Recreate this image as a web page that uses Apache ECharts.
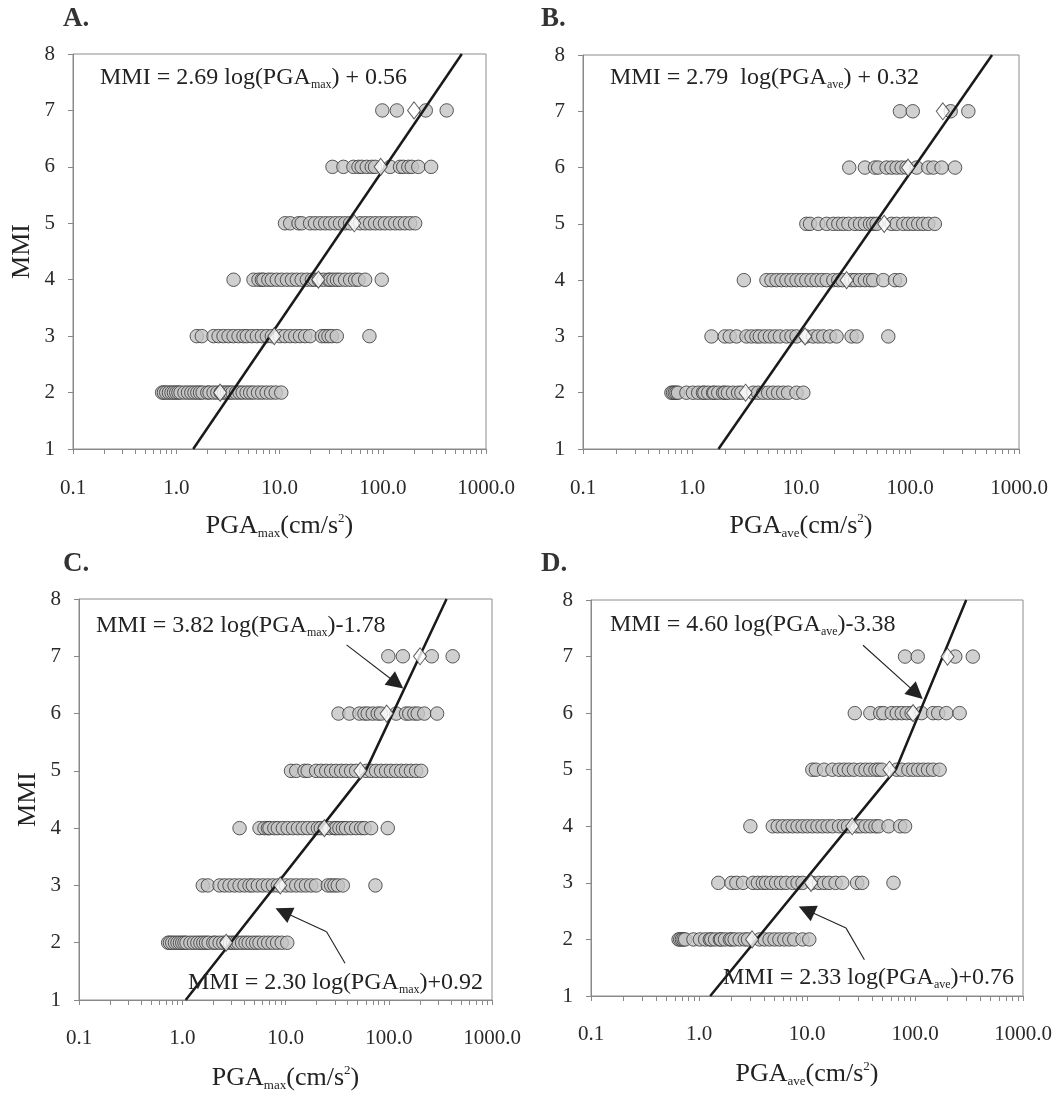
<!DOCTYPE html>
<html><head><meta charset="utf-8">
<script src="https://cdn.jsdelivr.net/npm/echarts@6/dist/echarts.min.js"></script>
<style>html,body{margin:0;padding:0;background:#fff}#c{width:1061px;height:1094px}</style>
</head><body><div id="c"></div>
<script>
// ---------- DATA ----------
const mmiLevels = [2, 3, 4, 5, 6, 7];
const xTickLabels = [0.1, 1, 10, 100, 1000];

// PGA_max (cm/s2) per MMI level
const maxMMI2 = [0.73,0.76,0.8,0.85,0.9,0.95,1.0,1.05,1.1,1.2,1.3,1.4,1.5,1.6,1.7,1.8,2.0,2.1,2.3,2.5,2.7,2.9,3.1,3.3,3.5,3.8,4.1,4.4,4.8,5.2,5.6,6.2,6.8,7.5,8.3,9.2,10.4];
const maxMMI3 = [1.58,1.77,2.30,2.57,2.87,3.21,3.59,4.01,4.48,4.83,5.40,6.04,6.75,7.54,8.43,10.1,11.3,12.7,14.2,15.8,17.7,19.8,25.7,27.7,29.8,32.1,35.9,74.3];
const maxMMI4 = [3.59,5.6,6.26,6.75,7.0,7.8,8.43,9.42,10.5,11.8,13.2,14.7,16.4,18.4,20.6,22,24,26.7,29.8,31,33.3,36,38.6,43.2,48.3,54.0,58.2,67.5,97.8];
const maxMMI5 = [11.3,12.7,15.3,16.4,19.8,22.1,24.8,27.7,30.9,34.6,38.6,43.2,48.3,60.4,67.5,75.4,84.3,94.2,105,118,132,147,164,184,206];
const maxMMI6 = [32.6,41.6,52,58.2,62.6,70,78.3,84.3,118,147,158,177,191,221,294];
const maxMMI7 = [99,137,261,416];
const meanMax = [2.66,8.9,23.8,53,95.5,201];

// PGA_ave (cm/s2) per MMI level
const aveMMI2 = [0.647,0.67,0.695,0.72,0.745,0.889,1.02,1.14,1.26,1.3,1.41,1.56,1.6,1.74,1.93,2.0,2.14,2.38,2.65,2.84,3.64,4.04,4.5,5.0,5.55,6.17,6.86,7.62,9.1,10.5];
const aveMMI3 = [1.51,2.0,2.22,2.56,3.16,3.51,3.9,4.19,4.66,5.18,5.75,6.4,7.36,8.18,9.1,11.2,12.9,14.4,16.0,18.4,21.2,29.1,32.4,63.2];
const aveMMI4 = [2.99,4.82,5.36,5.96,6.63,7.36,8.18,9.1,10.1,11.2,12.5,13.9,15.5,17.2,19.8,22,24,29,31.3,34.8,38.6,43.0,46.0,56.9,72.8,80.9];
const aveMMI5 = [11.2,12.1,14.4,17.2,19.8,22.0,24.4,27.2,31.3,34.8,38.6,43.0,46,49.4,67.8,75.4,86.8,96.4,107,119,132,147,169];
const aveMMI6 = [27.7,38.6,47.7,51.1,61.0,67.8,75.4,83.8,93.0,115,147,164,195,259];
const aveMMI7 = [80.9,106,236,343];
const meanAve = [3.1,10.9,26.2,58,96,200];

// regression lines [PGA, MMI]
const lineA = [[1.46,1],[583,8]];
const lineB = [[1.75,1],[566,8]];
const lineC = [[1.08,1],[59.8,5.0],[363,8]];
const lineD = [[1.27,1],[66.7,5.01],[298,8]];

// annotation arrows [PGA, MMI]: tail -> (bend) -> head
const arrowC1 = [[39,7.2],[119,6.53]];
const arrowC2 = [[37.7,1.64],[25,2.19],[9.5,2.54]];
const arrowD1 = [[33,7.2],[103,6.35]];
const arrowD2 = [[34,1.64],[23,2.2],[9.9,2.52]];

// ---------- BUILD ----------
const maxRows = [maxMMI2,maxMMI3,maxMMI4,maxMMI5,maxMMI6,maxMMI7];
const aveRows = [aveMMI2,aveMMI3,aveMMI4,aveMMI5,aveMMI6,aveMMI7];
function pts(rows){const o=[];rows.forEach((r,i)=>r.forEach(v=>o.push([v,mmiLevels[i]])));return o;}
function means(m){return m.map((v,i)=>[v,mmiLevels[i]]);}
const tickVals=[];
[0.1,1,10,100].forEach(d=>{for(let k=1;k<10;k++)tickVals.push(+(d*k).toPrecision(3));});
tickVals.push(1000);

const FONT='"Liberation Serif","Times New Roman",serif';
const grids=[
  {left:73,top:54,width:413,height:395},
  {left:583,top:55,width:436,height:394},
  {left:79,top:599,width:413,height:401},
  {left:591,top:600,width:432,height:396}
];
const nameRich={
  sub:{fontSize:13,lineHeight:13,verticalAlign:'bottom',padding:[12,0,0,0],fontFamily:FONT,color:'#222'},
  sup:{fontSize:13,lineHeight:13,verticalAlign:'top',fontFamily:FONT,color:'#222'}
};
const xNames=['PGA{sub|max}(cm/s{sup|2})','PGA{sub|ave}(cm/s{sup|2})','PGA{sub|max}(cm/s{sup|2})','PGA{sub|ave}(cm/s{sup|2})'];

const xAxis=grids.map((g,i)=>({
  type:'log',logBase:10,min:0.1,max:1000,gridIndex:i,
  axisLine:{show:true,lineStyle:{color:'#888',width:1}},
  axisTick:{show:true,length:5,customValues:tickVals,lineStyle:{color:'#888'}},
  axisLabel:{customValues:xTickLabels,formatter:v=>Number(v).toFixed(1),fontFamily:FONT,fontSize:21,color:'#2a2a2a',margin:i<2?29:28},
  splitLine:{show:false},
  name:xNames[i],nameLocation:'middle',nameGap:i<2?63:64,
  nameTextStyle:{fontFamily:FONT,fontSize:26,color:'#222',lineHeight:28,rich:nameRich}
}));
const yAxis=grids.map((g,i)=>({
  type:'value',min:1,max:8,interval:1,gridIndex:i,
  axisLine:{show:true,lineStyle:{color:'#888'}},
  axisTick:{show:true,length:5,lineStyle:{color:'#888'}},
  axisLabel:{fontFamily:FONT,fontSize:21,color:'#2a2a2a',margin:18},
  splitLine:{show:false},
  name:(i%2===0)?'MMI':'',nameLocation:'middle',nameGap:38,
  nameTextStyle:{fontFamily:FONT,fontSize:26,color:'#222'}
}));

const circleStyle={color:'#c4c4c4',borderColor:'#333',borderWidth:1};
const diamondStyle={color:'#fff',borderColor:'#333',borderWidth:1};
const lineStyle={color:'#1a1a1a',width:2.5};
const series=[];
const panelData=[
  {pts:pts(maxRows),mean:means(meanMax),line:lineA},
  {pts:pts(aveRows),mean:means(meanAve),line:lineB},
  {pts:pts(maxRows),mean:means(meanMax),line:lineC,arrows:[arrowC1,arrowC2]},
  {pts:pts(aveRows),mean:means(meanAve),line:lineD,arrows:[arrowD1,arrowD2]}
];
panelData.forEach((p,i)=>{
  series.push({type:'scatter',xAxisIndex:i,yAxisIndex:i,data:p.pts,symbol:'circle',symbolSize:13.5,itemStyle:circleStyle,z:2,silent:true});
  series.push({type:'line',xAxisIndex:i,yAxisIndex:i,data:p.line,showSymbol:false,symbol:'none',lineStyle:lineStyle,z:3,silent:true});
  series.push({type:'scatter',xAxisIndex:i,yAxisIndex:i,data:p.mean,symbol:'diamond',symbolSize:[13,17],itemStyle:diamondStyle,z:4,silent:true});
  if(p.arrows){
    // head segments (last segment of each arrow) with arrowhead
    const heads=p.arrows.map(a=>({coords:[a[a.length-2],a[a.length-1]]}));
    // leading segments (without arrowhead)
    const tails=[];
    p.arrows.forEach(a=>{for(let k=0;k<a.length-2;k++)tails.push({coords:[a[k],a[k+1]]});});
    series.push({type:'lines',coordinateSystem:'cartesian2d',xAxisIndex:i,yAxisIndex:i,
      data:heads,symbol:['none','triangle'],symbolSize:[14,17],
      lineStyle:{color:'#222',width:1.1,opacity:1},itemStyle:{color:'#222'},z:5,silent:true});
    series.push({type:'lines',coordinateSystem:'cartesian2d',xAxisIndex:i,yAxisIndex:i,
      data:tails,symbol:['none','none'],
      lineStyle:{color:'#222',width:1.1,opacity:1},z:5,silent:true});
  }
});

const eqRich={sub:{fontSize:12,lineHeight:12,verticalAlign:'bottom',padding:[13,0,0,0],fontFamily:FONT,fill:'#222'}};
function eq(text,x,y){
  return {type:'text',x:x,y:y,z:10,style:{text:text,fontFamily:FONT,fontSize:24,lineHeight:26,fill:'#222',verticalAlign:'middle',rich:eqRich}};
}
function letter(t,x,y){return {type:'text',x:x,y:y,z:10,style:{text:t,fontFamily:FONT,fontSize:27,fontWeight:'bold',fill:'#333',verticalAlign:'top'}};}

const option={
  backgroundColor:'#fff',animation:false,
  grid:grids.map(g=>Object.assign({show:true,borderColor:'#8c8c8c',borderWidth:1,backgroundColor:'transparent'},g)),
  xAxis:xAxis,yAxis:yAxis,series:series,
  graphic:[
    letter('A.',63,6),letter('B.',541,6),letter('C.',63,551),letter('D.',541,551),
    eq('MMI = 2.69 log(PGA{sub|max}) + 0.56',100,78),
    eq('MMI = 2.79  log(PGA{sub|ave}) + 0.32',610,78),
    eq('MMI = 3.82 log(PGA{sub|max})-1.78',96,626),
    eq('MMI = 2.30 log(PGA{sub|max})+0.92',188,983),
    eq('MMI = 4.60 log(PGA{sub|ave})-3.38',610,625),
    eq('MMI = 2.33 log(PGA{sub|ave})+0.76',723,978)
  ]
};
const chart=echarts.init(document.getElementById('c'),null,{renderer:'canvas'});
chart.setOption(option);
</script></body></html>
